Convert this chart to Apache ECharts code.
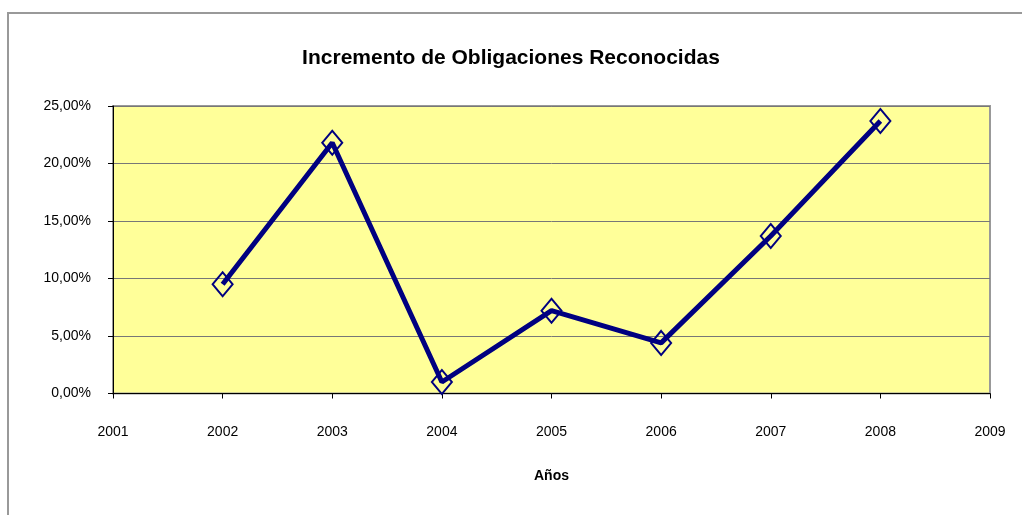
<!DOCTYPE html>
<html>
<head>
<meta charset="utf-8">
<script src="https://cdn.jsdelivr.net/npm/echarts@6/dist/echarts.min.js"></script>
<style>html,body{margin:0;padding:0;background:#fff}#c{width:1022px;height:515px}</style>
</head>
<body>
<div id="c"></div>
<script>
var years = [2002, 2003, 2004, 2005, 2006, 2007, 2008];
var values = [9.5, 21.8, 1.0, 7.2, 4.4, 13.7, 23.7];
var titleText = 'Incremento de Obligaciones Reconocidas';
var xName = 'Años';

var chart = echarts.init(document.getElementById('c'), null, {renderer: 'canvas'});
var font = '"Liberation Sans", Arial, sans-serif';
chart.setOption({
  animation: false,
  backgroundColor: '#fff',
  graphic: [{
    type: 'rect', z: -10,
    shape: {x: 8, y: 13, width: 1030, height: 520},
    style: {fill: 'none', stroke: '#999', lineWidth: 2}
  }],
  title: {
    text: titleText, left: 'center', top: 43,
    textStyle: {fontFamily: font, fontSize: 21, fontWeight: 'bold', color: '#000'}
  },
  grid: {
    left: 113, right: 32, top: 106, bottom: 121.5,
    show: true, backgroundColor: '#ffff99', borderColor: '#999', borderWidth: 2
  },
  xAxis: {
    type: 'value', min: 2001, max: 2009, interval: 1,
    name: xName, nameLocation: 'middle', nameGap: 76,
    nameTextStyle: {fontFamily: font, fontSize: 14, fontWeight: 'bold', color: '#000'},
    axisLine: {show: true, lineStyle: {color: '#000', width: 1}},
    axisTick: {show: true, length: 5, lineStyle: {color: '#000'}},
    axisLabel: {fontFamily: font, fontSize: 14, color: '#000', margin: 32,
      formatter: function (v) { return String(v); }},
    splitLine: {show: false}
  },
  yAxis: {
    type: 'value', min: 0, max: 25, interval: 5,
    axisLine: {show: true, lineStyle: {color: '#000', width: 1}},
    axisTick: {show: true, length: 5, lineStyle: {color: '#000'}},
    axisLabel: {fontFamily: font, fontSize: 14, color: '#000', margin: 22,
      formatter: function (v) { return v.toFixed(2).replace('.', ',') + '%'; }},
    splitLine: {show: true, lineStyle: {color: '#777', width: 1}}
  },
  series: [{
    type: 'line',
    data: years.map(function (y, i) { return [y, values[i]]; }),
    lineStyle: {color: '#000080', width: 5},
    symbol: 'diamond', symbolSize: [20, 24],
    itemStyle: {color: 'rgba(0,0,0,0)', borderColor: '#000080', borderWidth: 2},
    z: 5
  }]
});
</script>
</body>
</html>
